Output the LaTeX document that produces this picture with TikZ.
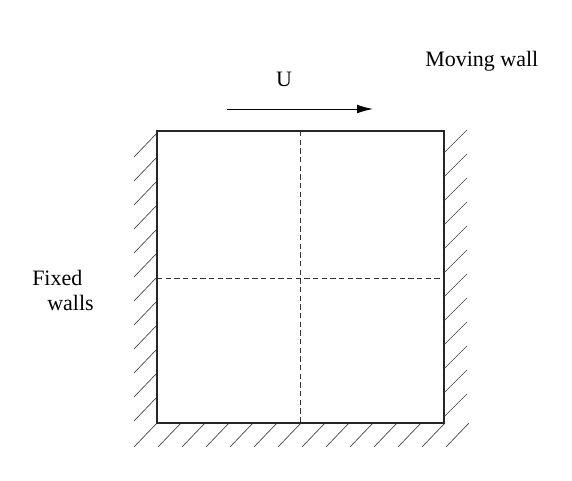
\documentclass[tikz,border=0pt]{standalone}
\usepackage{fontspec}
\setmainfont{Liberation Serif}
\usetikzlibrary{arrows.meta}
\begin{document}
\begin{tikzpicture}[x=0.75pt,y=-0.75pt,
  wall/.style={line width=0.8pt,black!85},
  hatch/.style={line width=0.5pt,black!75},
  grid/.style={line width=0.5pt,black!80,dash pattern=on 4pt off 2.5pt},
  lbl/.style={font=\fontsize{16.5}{20}\selectfont,inner sep=0pt,anchor=base west}]
\useasboundingbox (0,0) rectangle (572,480);
\coordinate (tl) at (157,131);
\coordinate (tr) at (444,131);
\coordinate (bl) at (157,423);
\coordinate (br) at (444,423);
\coordinate (tm) at (300,131);
\coordinate (bm) at (300,423);
\coordinate (lm) at (157,278);
\coordinate (rm) at (444,278);
% hatching
\foreach \y in {133,157,181,205,229,253,277,301,325,349,373,397}
  \draw[hatch] (157,\y) -- ++(-23,24);
\foreach \y in {153,177,201,225,249,273,297,321,345,369,393,417}
  \draw[hatch] (444,\y) -- ++(23,-23);
\foreach \x in {157,181,205,229,253,277,301,325,349,373,397,421,445,469}
  \draw[hatch] (\x,423) -- ++(-23,24);
% box
\draw[wall] (tl) -- (tr) -- (br) -- (bl) -- cycle;
\draw[grid] (tm) -- (bm);
\draw[grid] (lm) -- (rm);
% arrow
\coordinate (a0) at (227,109);
\coordinate (a1) at (373,109);
\draw[line width=0.7pt,-{Latex[length=12pt,width=6.5pt]}] (a0) -- (a1);
\node[lbl,anchor=base] (u) at (284,86) {U};
\node[lbl] (mw) at (425,66) {Moving wall};
\node[lbl] (fx) at (32,285) {Fixed};
\node[lbl] (wl) at (47,310) {walls};
\end{tikzpicture}
\end{document}
